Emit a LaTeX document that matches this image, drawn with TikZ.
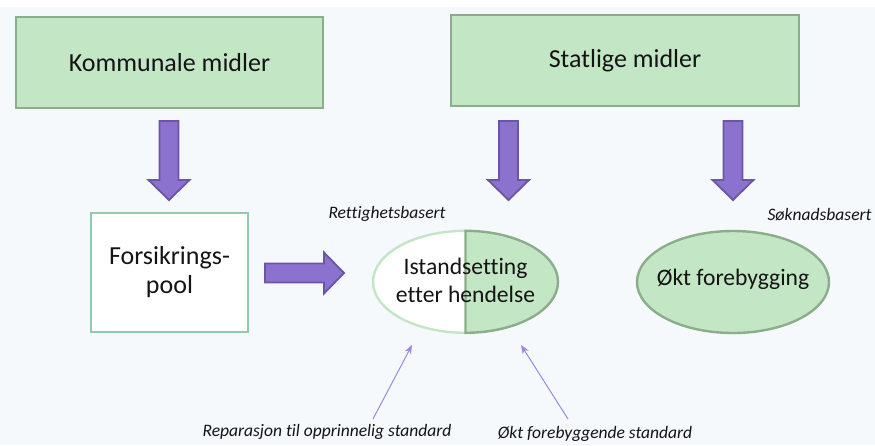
\documentclass[tikz,border=0pt]{standalone}
\usepackage{fontspec}
\setmainfont[Ligatures=NoCommon]{Carlito}
\usetikzlibrary{arrows.meta,shapes.geometric,calc}
\definecolor{pagebg}{HTML}{F5F9FB}
\definecolor{boxfill}{HTML}{C3E7C5}
\definecolor{boxline}{HTML}{8CAD8B}
\definecolor{poolline}{HTML}{8FCAAB}
\definecolor{softline}{HTML}{C4E6C6}
\definecolor{purplefill}{HTML}{8B72CE}
\definecolor{purpleline}{HTML}{6A55A6}
\definecolor{thinpurple}{HTML}{9C88DC}
\definecolor{ink}{HTML}{141414}
\pgfdeclarelayer{bg}
\pgfdeclarelayer{mid}
\pgfsetlayers{bg,mid,main}
\tikzset{
  greenbox/.style={draw=boxline, line width=2.2pt, fill=boxfill, text=ink,
    font=\fontsize{26}{29}\selectfont, inner sep=0pt},
  poolbox/.style={draw=poolline, line width=2.4pt, fill=white, text=ink,
    font=\fontsize{26}{29}\selectfont, align=center, inner sep=0pt},
  ovalshape/.style={ellipse, inner sep=0pt},
  ovaltext/.style={text=ink, font=\fontsize{23.6}{28}\selectfont, align=center, inner sep=0pt},
  note/.style={text=ink, font=\fontsize{17.5}{20}\selectfont\itshape, inner sep=0pt},
  pointer/.style={draw=thinpurple, line width=1pt, -{Stealth[length=9pt,width=7pt]}},
  fatstyle/.style={fill=purplefill, draw=purpleline, line width=1.8pt, line join=miter},
  fatarrow/.pic={\draw[fatstyle] (0,-9.5) -- (59,-9.5) -- (59,-20.5) -- (79,0)
     -- (59,20.5) -- (59,9.5) -- (0,9.5) -- cycle;}
}
\begin{document}
\begin{tikzpicture}[x=1pt,y=-1pt]
  % page and background
  \useasboundingbox (0,0) rectangle (875,445);
  \begin{pgfonlayer}{bg}
    \fill[pagebg] (0,0) rectangle (875,445);
    \fill[white] (0,0) rectangle (875,7);
  \end{pgfonlayer}

  % funding sources
  \node[greenbox, minimum width=307pt, minimum height=91pt] (kom) at (169.5,62.5) {Kommunale midler};
  \node[greenbox, minimum width=348pt, minimum height=91pt] (stat) at (625,60.5) {Statlige midler};

  % insurance pool
  \node[poolbox, minimum width=157pt, minimum height=119pt] (pool) at (169.5,272.5) {Forsikrings-\\pool};

  % split oval: restoration after an event
  \node[ovalshape, minimum width=185pt, minimum height=102pt] (ist) at (465.5,282) {};
  \begin{pgfonlayer}{mid}
    \fill[white] (ist.north) arc[start angle=90, end angle=270, x radius=92.5pt, y radius=51pt] -- cycle;
    \draw[softline, line width=2.4pt] (ist.north) arc[start angle=90, end angle=270, x radius=92.5pt, y radius=51pt];
    \draw[boxline, fill=boxfill, line width=2.4pt] (ist.north) arc[start angle=90, end angle=-90, x radius=92.5pt, y radius=51pt] -- cycle;
  \end{pgfonlayer}
  \node[ovaltext] (isttext) at ($(ist.center)+(0,-2)$) {Istandsetting\\etter hendelse};

  % prevention oval
  \node[ovalshape, draw=boxline, fill=boxfill, line width=2.4pt, minimum width=192pt, minimum height=102pt] (okt) at (733,282) {};
  \node[ovaltext] (okttext) at ($(okt.center)+(0,-3)$) {Økt forebygging};

  % labels
  \node[note] (rett) at (387,214) {Rettighetsbasert};
  \node[note] (sok) at (819.5,215) {Søknadsbasert};
  \node[note] (rep) at (327,432) {Reparasjon til opprinnelig standard};
  \node[note] (forst) at (595,434) {Økt forebyggende standard};

  % block arrows
  \pic[rotate=-90] at (169,121) {fatarrow};
  \pic[rotate=-90] at (508.5,121) {fatarrow};
  \pic[rotate=-90] at (733,121) {fatarrow};
  \pic at (265,273) {fatarrow};

  % thin pointers into the oval
  \coordinate (repfoot) at (373,419);
  \coordinate (forfoot) at (568,419);
  \coordinate (lefttip) at (412,345);
  \coordinate (righttip) at (521,345);
  \draw[pointer] (repfoot) -- (lefttip);
  \draw[pointer] (forfoot) -- (righttip);
\end{tikzpicture}
\end{document}
